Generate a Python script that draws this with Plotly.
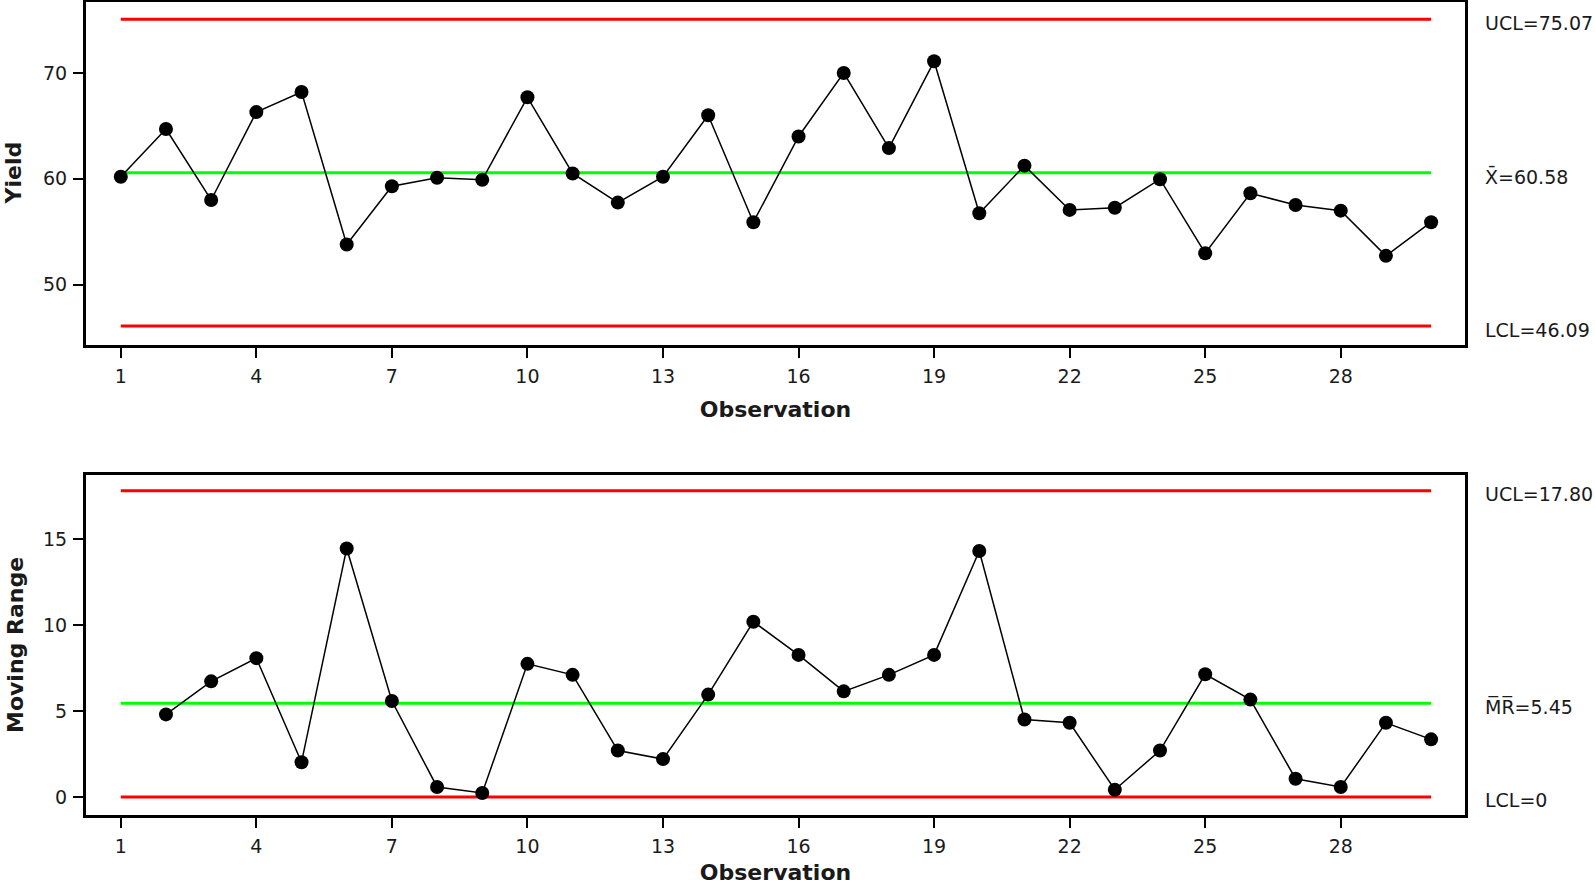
import plotly.graph_objects as go

# ---------------- data ----------------
obs = list(range(1, 31))
yield_vals = [60.2, 64.7, 58.0, 66.3, 68.2, 53.8, 59.3, 60.1, 59.9, 67.7,
              60.5, 57.75, 60.2, 66.0, 55.9, 64.0, 70.0, 62.9, 71.1, 56.75,
              61.24, 57.06, 57.27, 59.96, 52.97, 58.63, 57.53, 56.99, 52.72, 55.9]
mr_obs = list(range(2, 31))
mr_vals = [4.8, 6.72, 8.07, 2.02, 14.45, 5.58, 0.58, 0.23, 7.74, 7.1,
           2.7, 2.2, 5.95, 10.19, 8.26, 6.14, 7.1, 8.26, 14.3, 4.5,
           4.31, 0.42, 2.7, 7.13, 5.66, 1.06, 0.58, 4.31, 3.35]

i_ucl, i_cl, i_lcl = 75.07, 60.58, 46.09
mr_ucl, mr_cl, mr_lcl = 17.80, 5.45, 0.0

x_ticks = [1, 4, 7, 10, 13, 16, 19, 22, 25, 28]
i_yticks = [50, 60, 70]
mr_yticks = [0, 5, 10, 15]

i_labels = ["UCL=75.07", "X\u0304=60.58", "LCL=46.09"]
mr_labels = ["UCL=17.80", "M\u0305R\u0305=5.45", "LCL=0"]

# ---------------- figure ----------------
W, H = 1595, 885
ML, MR_, MT, MB = 86, 130, 2, 70
plot_w = W - ML - MR_
plot_h = H - MT - MB

top_dom = [1 - (345 - MT) / plot_h, 1.0]
bot_dom = [0.0, 1 - (475 - MT) / plot_h]

fig = go.Figure()

RED = "#FF0000"
GREEN = "#00FF00"
x_span = [obs[0], obs[-1]]

# control lines, top
for val, col in [(i_ucl, RED), (i_cl, GREEN), (i_lcl, RED)]:
    fig.add_trace(go.Scatter(x=x_span, y=[val, val], mode="lines",
                             line=dict(color=col, width=3),
                             xaxis="x", yaxis="y", hoverinfo="skip"))
# control lines, bottom
for val, col in [(mr_ucl, RED), (mr_cl, GREEN), (mr_lcl, RED)]:
    fig.add_trace(go.Scatter(x=x_span, y=[val, val], mode="lines",
                             line=dict(color=col, width=3),
                             xaxis="x2", yaxis="y2", hoverinfo="skip"))

fig.add_trace(go.Scatter(x=obs, y=yield_vals, mode="lines+markers",
                         line=dict(color="black", width=1.5),
                         marker=dict(color="black", size=14),
                         xaxis="x", yaxis="y"))
fig.add_trace(go.Scatter(x=mr_obs, y=mr_vals, mode="lines+markers",
                         line=dict(color="black", width=1.5),
                         marker=dict(color="black", size=14),
                         xaxis="x2", yaxis="y2"))

tick_font = dict(family="DejaVu Sans", size=19, color="#1a1a1a")
title_font = dict(family="DejaVu Sans", size=22, color="#1a1a1a")

common_x = dict(range=[0.23, 30.75], tickmode="array", tickvals=x_ticks,
                ticks="outside", ticklen=10, tickwidth=2, tickcolor="black",
                showline=True, linewidth=3, linecolor="black", mirror=True,
                showgrid=False, zeroline=False, tickfont=tick_font,
                ticklabelstandoff=2,
                title=dict(text="<b>Observation</b>", font=title_font, standoff=16))
common_y = dict(ticks="outside", ticklen=10, tickwidth=2, tickcolor="black",
                showline=True, linewidth=3, linecolor="black", mirror=True,
                showgrid=False, zeroline=False, tickfont=tick_font,
                ticklabelstandoff=2)

fig.update_layout(
    width=W, height=H,
    margin=dict(l=ML, r=MR_, t=MT, b=MB, autoexpand=False),
    paper_bgcolor="white", plot_bgcolor="white",
    showlegend=False,
    hovermode=False,
    xaxis=dict(domain=[0, 1], anchor="y", **common_x),
    yaxis=dict(domain=top_dom, anchor="x", range=[44.3, 76.7],
               tickmode="array", tickvals=i_yticks, **common_y),
    xaxis2=dict(domain=[0, 1], anchor="y2", **common_x),
    yaxis2=dict(domain=bot_dom, anchor="x2", range=[-1.05, 18.72],
                tickmode="array", tickvals=mr_yticks, **common_y),
)

# right-hand limit labels
lab_x = 1 + (1483 - (W - MR_)) / plot_w
for val, txt in zip([i_ucl, i_cl, i_lcl], i_labels):
    fig.add_annotation(x=lab_x, xref="paper", y=val, yref="y", text=txt,
                       showarrow=False, xanchor="left", yanchor="middle",
                       yshift=-4, font=tick_font)
for val, txt in zip([mr_ucl, mr_cl, mr_lcl], mr_labels):
    fig.add_annotation(x=lab_x, xref="paper", y=val, yref="y2", text=txt,
                       showarrow=False, xanchor="left", yanchor="middle",
                       yshift=-3, font=tick_font)

# y-axis titles
fig.add_annotation(x=(13 - ML) / plot_w, xref="paper",
                   y=sum(top_dom) / 2, yref="paper", text="<b>Yield</b>",
                   textangle=-90, showarrow=False, xanchor="center",
                   yanchor="middle", font=title_font)
fig.add_annotation(x=(15 - ML) / plot_w, xref="paper",
                   y=sum(bot_dom) / 2, yref="paper", text="<b>Moving Range</b>",
                   textangle=-90, showarrow=False, xanchor="center",
                   yanchor="middle", font=title_font)

fig.write_html("out.html",
               config={"displayModeBar": False},
               post_script="document.body.style.margin='0px';")
